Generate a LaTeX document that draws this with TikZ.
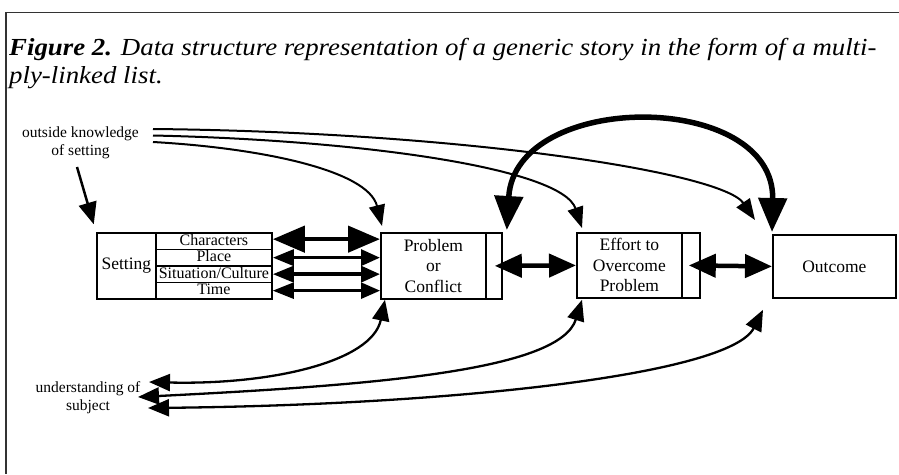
\documentclass[tikz,border=0pt]{standalone}
\usepackage{fontspec}
\usepackage{graphicx}
\setmainfont{Liberation Serif}
\usetikzlibrary{arrows.meta,calc}
\tikzset{
  box/.style={draw, line width=1.8pt, inner sep=0pt, align=center},
  rowbox/.style={box, minimum width=116, minimum height=16.5, text height=11, text depth=3,
     font=\fontsize{16}{18}\selectfont},
  boxtext/.style={font=\fontsize{17.5}{20.5}\selectfont},
  lbl/.style={inner sep=0pt, align=center, font=\fontsize{15.5}{18.5}\selectfont},
  titlefont/.style={anchor=base west, inner sep=0pt, font=\fontsize{24.5}{28}\selectfont\itshape},
  frame/.style={line width=1.2pt, black!80},
  rowA/.style={line width=4.5pt, {Triangle[length=32pt,width=26pt]}-{Triangle[length=32pt,width=26pt]}},
  rowB/.style={line width=3.5pt, {Triangle[length=21pt,width=16pt]}-{Triangle[length=19pt,width=16pt]}},
  rowC/.style={line width=2.5pt, {Triangle[length=21pt,width=16pt]}-{Triangle[length=19pt,width=16pt]}},
  linkarr/.style={line width=4.5pt, {Triangle[length=27pt,width=23pt]}-{Triangle[length=27pt,width=23pt]}},
  bigarc/.style={line width=5.5pt, {Triangle[length=34pt,width=28pt]}-{Triangle[length=34pt,width=28pt]}},
  thinarr/.style={line width=2pt, -{Triangle[length=21pt,width=16pt]}},
  botarr/.style={line width=2.3pt, {Triangle[length=21pt,width=17pt]}-{Triangle[length=21pt,width=17pt]}},
}
\begin{document}
\begin{tikzpicture}[x=1pt,y=-1pt]
\useasboundingbox (0,0) rectangle (899,474);
\fill[white] (0,0) rectangle (899,474);
\draw[frame] (899,12.5) -- (6,12.5) -- (6,474);

% title
\node[titlefont] (title1) at (9,55)
  {\scalebox{1.095}[1]{\textbf{Figure 2.} Data structure representation of a generic story in the form of a multi-}};
\node[titlefont] (title2) at (9,83)
  {\scalebox{1.095}[1]{ply-linked list.}};

% setting block
\node[box, boxtext, anchor=north west, minimum width=59, minimum height=66] (setting) at (96,232) {Setting};
\node[rowbox, anchor=north west] (r1) at (155,232) {Characters};
\node[rowbox, anchor=north west] (r2) at (155,248.5) {Place};
\node[rowbox, anchor=north west] (r3) at (155,265) {Situation/Culture};
\node[rowbox, anchor=north west] (r4) at (155,281.5) {Time};

% problem
\node[box, boxtext, anchor=north west, minimum width=105, minimum height=66] (prob) at (380,232) {Problem\\or\\Conflict};
\node[box, anchor=north west, minimum width=16, minimum height=66] (probx) at (485,232) {};
% effort
\node[box, boxtext, anchor=north west, minimum width=105, minimum height=65] (eff) at (576,232) {Effort to\\Overcome\\Problem};
\node[box, anchor=north west, minimum width=18, minimum height=65] (effx) at (681,232) {};
% outcome
\node[box, boxtext, anchor=north west, minimum width=123, minimum height=63] (outc) at (772,234) {Outcome};

% labels
\node[lbl] (outk) at (80.5,143) {outside knowledge\\of setting};
\node[lbl] (und) at (88,397.5) {understanding of\\subject};

\coordinate (ok1) at (153,129);
\coordinate (ok2) at (153,135.5);
\coordinate (ok3) at (153,142);
\coordinate (oka) at (77,167);
\coordinate (us1) at (149,382);
\coordinate (us2) at (138,397);
\coordinate (us3) at (148,408);

% setting rows to problem
\draw[rowA] ($(r1.east)+(0,-2)$) -- ($(prob.west |- r1.east)+(0,-2)$);
\draw[rowB] (r2.east) -- (prob.west |- r2.east);
\draw[rowB] (r3.east) -- (prob.west |- r3.east);
\draw[rowC] (r4.east) -- (prob.west |- r4.east);

% links
\draw[linkarr] ($(probx.east)+(-8,0)$) -- (eff.west);
\draw[linkarr] ($(effx.east)+(-12,0)$) -- (outc.west);

% big arc
\draw[bigarc] ($(probx.north east)+(4,-2)$) .. controls (515,90) and (775,90) .. ($(outc.north west)+(0,-2)$);

% outside knowledge arrows
\draw[line width=2.5pt, -{Triangle[length=22pt,width=18pt]}, shorten >=8pt] (oka) -- (setting.north west);
\draw[thinarr] (ok3) .. controls (260,148) and (368,170) .. ($(prob.north west)+(2,-6)$);
\draw[thinarr] (ok2) .. controls (360,140) and (562,168) .. ($(eff.north west)+(6,-4)$);
\draw[thinarr] (ok1) .. controls (460,132) and (722,172) .. ($(outc.north west)+(-17,-14)$);

% understanding arrows
\draw[botarr] ($(prob.south west)+(5,0)$) .. controls (372,362) and (270,385) .. (us1);
\draw[botarr] ($(eff.south west)+(6,1)$) .. controls (560,370) and (380,385) .. (us2);
\draw[botarr] ($(outc.south west)+(-9,11)$) .. controls (730,375) and (450,405) .. (us3);
\end{tikzpicture}
\end{document}
